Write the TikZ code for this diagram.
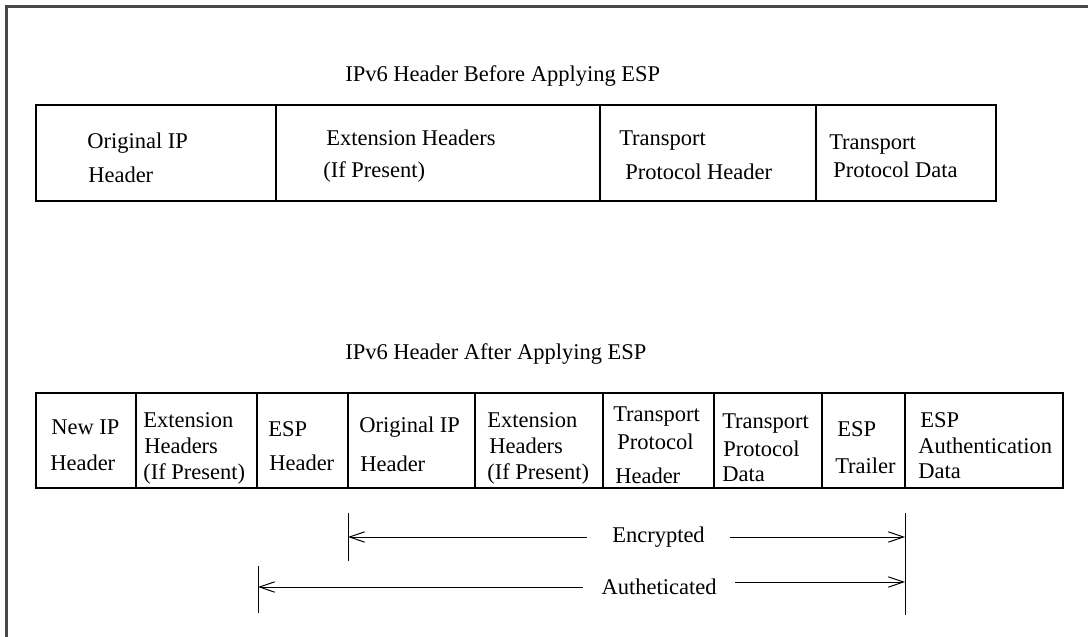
\documentclass[tikz,border=0pt]{standalone}
\usepackage{fontspec}
\setmainfont{Liberation Serif}
\usetikzlibrary{arrows.meta}

\tikzset{
    box/.style={line width=1pt, black},
    frameline/.style={line width=1.9pt, black!72},
    txt/.style={anchor=base west, inner sep=0pt},
    arr/.style={line width=0.7pt, -{Straight Barb[length=3.8mm,width=2.6mm]}},
    tick/.style={line width=0.7pt}
}

\begin{document}
\begin{tikzpicture}[x=0.025cm, y=-0.025cm, font=\fontsize{16}{19}\selectfont]
        \useasboundingbox (0,0) rectangle (1088,637);
        \draw[frameline] (6.5,637) -- (6.5,6.5) -- (1088,6.5);

        % before ESP
        \node[txt] (titleA) at (345,82) {IPv6 Header Before Applying ESP};
        \draw[box] (36,105) rectangle (996,201);
        \draw[box] (276,105) -- (276,201);
        \draw[box] (600,105) -- (600,201);
        \draw[box] (816,105) -- (816,201);
        \node[txt] (origA) at (87,149) {Original IP};
        \node[txt] (origB) at (88,183) {Header};
        \node[txt] (extA) at (326,146) {Extension Headers};
        \node[txt] (extB) at (323,178) {(If Present)};
        \node[txt] (tphA) at (619,146) {Transport};
        \node[txt] (tphB) at (625,180) {Protocol Header};
        \node[txt] (tpdA) at (829,150) {Transport};
        \node[txt] (tpdB) at (833,178) {Protocol Data};

        % after ESP
        \node[txt] (titleB) at (345,359) {IPv6 Header After Applying ESP};
        \draw[box] (36,393) rectangle (1063,488);
        \draw[box] (136,393) -- (136,488);
        \draw[box] (257,393) -- (257,488);
        \draw[box] (348,393) -- (348,488);
        \draw[box] (475,393) -- (475,488);
        \draw[box] (603,393) -- (603,488);
        \draw[box] (714,393) -- (714,488);
        \draw[box] (822,393) -- (822,488);
        \draw[box] (905,393) -- (905,488);
        \node[txt] (newA) at (51,434) {New IP};
        \node[txt] (newB) at (50,470) {Header};
        \node[txt] (xhA) at (143,427) {Extension};
        \node[txt] (xhB) at (144,453) {Headers};
        \node[txt] (xhC) at (143,479) {(If Present)};
        \node[txt] (esphA) at (268,436) {ESP};
        \node[txt] (esphB) at (269,470) {Header};
        \node[txt] (oipA) at (359,432) {Original IP};
        \node[txt] (oipB) at (360,471) {Header};
        \node[txt] (xiA) at (487,427) {Extension};
        \node[txt] (xiB) at (489,453) {Headers};
        \node[txt] (xiC) at (487,479) {(If Present)};
        \node[txt] (phA) at (613,421) {Transport};
        \node[txt] (phB) at (617,449) {Protocol};
        \node[txt] (phC) at (615,483) {Header};
        \node[txt] (pdA) at (722,428) {Transport};
        \node[txt] (pdB) at (723,456) {Protocol};
        \node[txt] (pdC) at (722,481) {Data};
        \node[txt] (trA) at (837,436) {ESP};
        \node[txt] (trB) at (835,473) {Trailer};
        \node[txt] (auA) at (920,427) {ESP};
        \node[txt] (auB) at (918,453) {Authentication};
        \node[txt] (auC) at (918,478) {Data};

        % ranges
        \coordinate (encL) at (348,537);
        \coordinate (encR) at (905,537);
        \coordinate (authL) at (258,587);
        \coordinate (authR) at (905,582);
        \draw[tick] (348,513) -- (348,561);
        \draw[tick] (258,566) -- (258,613);
        \draw[tick] (905,513) -- (905,615);
        \node[inner xsep=25pt*0.7113, inner ysep=0pt] (enc) at (658.5,537) {Encrypted};
        \node[inner xsep=18.5pt*0.7113, inner ysep=0pt] (auth) at (659,587) {Autheticated};
        \draw[arr] (enc.west) -- (encL);
        \draw[arr] (enc.east) -- (encR);
        \draw[arr] (auth.west) -- (authL);
        \draw[arr] (auth.east |- authR) -- (authR);
    \end{tikzpicture}
\end{document}
